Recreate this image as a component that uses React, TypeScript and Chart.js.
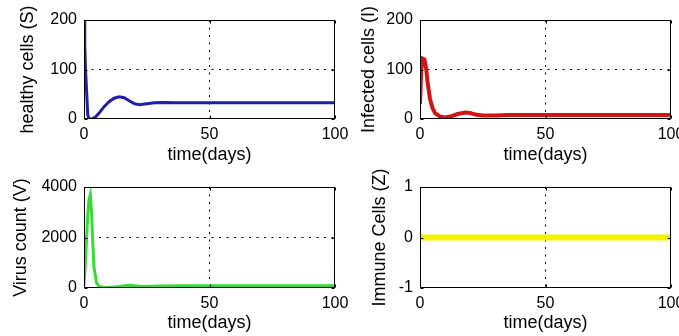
import React, { useEffect, useRef } from "react";
import { Chart, registerables } from "chart.js";
Chart.register(...registerables);

const W = 679;
const H = 336;
const FONT = "'Liberation Sans', Arial, sans-serif";

const xTitle = "time(days)";
const xMin = 0;
const xMax = 100;
const xStep = 50;

const tHealthy = [0, 0.3, 0.6, 1, 1.5, 2, 3, 4, 5, 6, 8, 10, 12, 14, 16, 18, 20, 22, 25, 28, 32, 36, 40, 50, 60, 70, 80, 90, 100];
const healthy = [200, 150, 100, 60, 8, 0, 0, 2, 6, 12, 25, 35, 42, 45, 43, 37, 31, 29, 31, 33, 33.5, 33, 33, 33, 33, 33, 33, 33, 33];

const tInfected = [0, 0.5, 1, 1.8, 2.5, 3, 4, 5, 6, 8, 10, 12, 15, 18, 20, 22, 25, 30, 35, 40, 50, 60, 70, 80, 90, 100];
const infected = [30, 100, 122, 120, 100, 75, 40, 22, 12, 5, 3, 5, 10, 13, 12, 9, 7, 7, 8, 8, 8, 8, 8, 8, 8, 8];

const tVirus = [0, 0.5, 1, 1.5, 2, 2.5, 3, 3.5, 4, 5, 6, 8, 10, 14, 18, 20, 24, 30, 40, 50, 60, 70, 80, 90, 100];
const virus = [100, 900, 1900, 2900, 3500, 3700, 3000, 1800, 800, 200, 60, 20, 20, 60, 110, 90, 60, 80, 85, 90, 90, 90, 90, 90, 90];

const tImmune = [0, 100];
const immune = [0, 0];

type PanelCfg = {
  t: number[];
  v: number[];
  color: string;
  width: number;
  yTitle: string;
  yMin: number;
  yMax: number;
  yStep: number;
  plotLeft: number;
  plotRight: number;
  plotTop: number;
  plotBottom: number;
  yTitleX: number;
  xTitleY: number;
};

const panels: PanelCfg[] = [
  { t: tHealthy, v: healthy, color: "#1e1eaa", width: 3, yTitle: "healthy cells (S)", yMin: 0, yMax: 200, yStep: 100,
    plotLeft: 84, plotRight: 335, plotTop: 20, plotBottom: 119, yTitleX: 28, xTitleY: 155 },
  { t: tInfected, v: infected, color: "#d41414", width: 4, yTitle: "Infected cells (I)", yMin: 0, yMax: 200, yStep: 100,
    plotLeft: 420, plotRight: 671, plotTop: 20, plotBottom: 119, yTitleX: 369.5, xTitleY: 155 },
  { t: tVirus, v: virus, color: "#35dc35", width: 3, yTitle: "Virus count (V)", yMin: 0, yMax: 4000, yStep: 2000,
    plotLeft: 84, plotRight: 335, plotTop: 187, plotBottom: 288, yTitleX: 21, xTitleY: 323 },
  { t: tImmune, v: immune, color: "#f2f200", width: 6, yTitle: "Immune Cells (Z)", yMin: -1, yMax: 1, yStep: 1,
    plotLeft: 420, plotRight: 671, plotTop: 187, plotBottom: 288, yTitleX: 380.5, xTitleY: 323 },
];

const boxPlugin = {
  id: "matlabBox",
  afterDatasetsDraw(chart: any) {
    const { ctx, chartArea: a, scales } = chart;
    ctx.save();
    ctx.strokeStyle = "#000";
    ctx.lineWidth = 1;
    const l = Math.round(a.left) + 0.5;
    const r = Math.round(a.right) - 0.5;
    const t = Math.round(a.top) + 0.5;
    const b = Math.round(a.bottom) - 0.5;
    ctx.strokeRect(l, t, r - l, b - t);
    const tl = 3;
    ctx.beginPath();
    for (const tk of scales.x.ticks) {
      const px = Math.round(scales.x.getPixelForValue(tk.value)) + 0.5;
      ctx.moveTo(px, b); ctx.lineTo(px, b - tl);
      ctx.moveTo(px, t); ctx.lineTo(px, t + tl);
    }
    for (const tk of scales.y.ticks) {
      const py = Math.round(scales.y.getPixelForValue(tk.value)) + 0.5;
      ctx.moveTo(l, py); ctx.lineTo(l + tl, py);
      ctx.moveTo(r, py); ctx.lineTo(r - tl, py);
    }
    ctx.stroke();
    ctx.restore();
  },
};

function Panel({ cfg }: { cfg: PanelCfg }) {
  const ref = useRef<HTMLCanvasElement | null>(null);
  useEffect(() => {
    if (!ref.current) return;
    const titleSize = 18;
    const titleLH = titleSize * 1.2;
    const padLeft = cfg.yTitleX - titleLH / 2;
    const xAxisBottom = cfg.xTitleY + titleLH / 2;
    const yAxisWidth = cfg.plotLeft - padLeft;
    const xAxisHeight = xAxisBottom - cfg.plotBottom;
    const gridColor = (c: any) => (c.index === 1 ? "#000" : "rgba(0,0,0,0)");
    const fmt = (v: any) => String(v);
    const chart = new Chart(ref.current, {
      type: "line",
      data: {
        datasets: [
          {
            data: cfg.t.map((x, i) => ({ x, y: cfg.v[i] })),
            borderColor: cfg.color,
            backgroundColor: cfg.color,
            borderWidth: cfg.width,
            pointRadius: 0,
            tension: 0,
            fill: false,
          },
        ],
      },
      options: {
        responsive: false,
        animation: false,
        devicePixelRatio: 1,
        events: [],
        layout: {
          padding: {
            left: padLeft,
            top: cfg.plotTop,
            right: W - cfg.plotRight,
            bottom: H - xAxisBottom,
          },
        },
        plugins: { legend: { display: false }, tooltip: { enabled: false } },
        scales: {
          x: {
            type: "linear",
            min: xMin,
            max: xMax,
            ticks: {
              stepSize: xStep,
              color: "#000",
              font: { family: FONT, size: 16 },
              padding: 6,
              maxRotation: 0,
              autoSkip: false,
              callback: fmt,
            },
            grid: { color: gridColor, lineWidth: 1, drawTicks: false },
            border: { display: false, dash: [2, 5.5] },
            title: { display: true, text: xTitle, color: "#000", font: { family: FONT, size: titleSize, lineHeight: 1.2 }, padding: 0 },
            afterFit: (s: any) => {
              s.height = xAxisHeight;
              s.paddingLeft = 0;
              s.paddingRight = 0;
            },
          },
          y: {
            type: "linear",
            min: cfg.yMin,
            max: cfg.yMax,
            ticks: {
              stepSize: cfg.yStep,
              color: "#000",
              font: { family: FONT, size: 16 },
              padding: 7,
              autoSkip: false,
              callback: fmt,
            },
            grid: { color: gridColor, lineWidth: 1, drawTicks: false },
            border: { display: false, dash: [2, 5.5] },
            title: { display: true, text: cfg.yTitle, color: "#000", font: { family: FONT, size: titleSize, lineHeight: 1.2 }, padding: 0 },
            afterFit: (s: any) => {
              s.width = yAxisWidth;
              s.paddingTop = 0;
              s.paddingBottom = 0;
            },
          },
        },
      } as any,
      plugins: [boxPlugin],
    });
    return () => chart.destroy();
  }, [cfg]);
  return (
    <canvas
      ref={ref}
      width={W}
      height={H}
      style={{ position: "absolute", left: 0, top: 0, width: W, height: H }}
    />
  );
}

export default function App() {
  return (
    <div style={{ position: "absolute", left: 0, top: 0, width: W, height: H, background: "#fff", overflow: "hidden" }}>
      {panels.map((p, i) => (
        <Panel key={i} cfg={p} />
      ))}
    </div>
  );
}
